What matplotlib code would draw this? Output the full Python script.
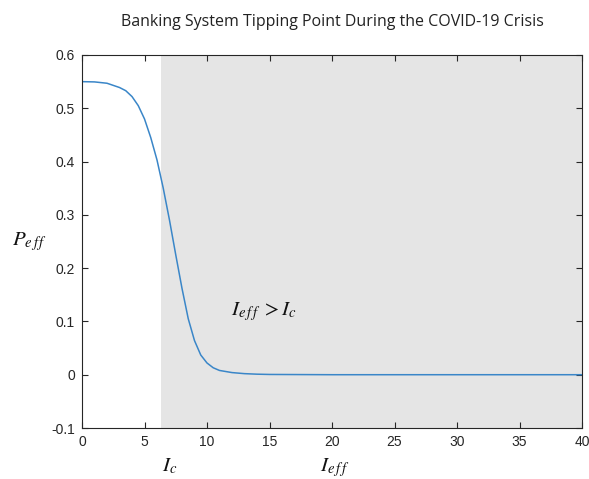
import numpy as np
import matplotlib.pyplot as plt

plt.rcParams['mathtext.fontset'] = 'stix'
plt.rcParams['font.family'] = ['Liberation Sans', 'DejaVu Sans']

# curve (I_eff, P_eff)
i_eff = [0.0, 1.0, 2.0, 3.0, 3.5, 4.0, 4.5, 5.0, 5.5, 6.0, 6.5, 7.0, 7.5,
         8.0, 8.5, 9.0, 9.5, 10.0, 10.5, 11.0, 12.0, 13.0, 14.0, 15.0,
         20.0, 30.0, 40.0]
p_eff = [0.550, 0.5495, 0.547, 0.539, 0.533, 0.522, 0.505, 0.480, 0.445,
         0.403, 0.350, 0.290, 0.225, 0.162, 0.105, 0.064, 0.037, 0.022,
         0.013, 0.008, 0.004, 0.002, 0.001, 0.0005, 0.0, 0.0, 0.0]
i_c = 6.3
x_ticks = [0, 5, 10, 15, 20, 25, 30, 35, 40]
y_ticks = [-0.1, 0, 0.1, 0.2, 0.3, 0.4, 0.5, 0.6]
y_labels = ['-0.1', '0', '0.1', '0.2', '0.3', '0.4', '0.5', '0.6']

fig = plt.figure(figsize=(5.89, 4.79), dpi=100)
ax = fig.add_axes([82/589, 51/479, 500/589, 373/479])

ax.axvspan(i_c, 40, color='#e5e5e5', lw=0, zorder=0)
ax.plot(i_eff, p_eff, color='#3a86c8', lw=1.1, zorder=2,
        solid_joinstyle='round')

ax.set_xlim(0, 40)
ax.set_ylim(-0.1, 0.6)
ax.set_xticks(x_ticks)
ax.set_yticks(y_ticks)
ax.set_yticklabels(y_labels)
ax.tick_params(direction='in', top=True, right=True, length=4, width=0.8,
               colors='#262626', labelsize=10, pad=5)
for s in ax.spines.values():
    s.set_color('#262626')
    s.set_linewidth(0.8)

ax.set_title('Banking System Tipping Point During the COVID-19 Crisis',
             fontsize=11.5, family='Open Sans', color='#222222', pad=21)

ax.text(11.9, 0.112, r'$I_{e\,f\,f}\; > I_c$', fontsize=15, color='#111111')
ax.text(-0.105, 0.5, r'$P_{e\,f\,f}$', transform=ax.transAxes, fontsize=15,
        ha='center', va='center', color='#111111')
ax.text(6.4 / 40, -0.115, r'$I_c$', transform=ax.transAxes, fontsize=15,
        ha='left', va='baseline', color='#111111')
ax.text(19.0 / 40, -0.115, r'$I_{e\,f\,f}$', transform=ax.transAxes,
        fontsize=15, ha='left', va='baseline', color='#111111')

fig.savefig('out.png', dpi=100)
